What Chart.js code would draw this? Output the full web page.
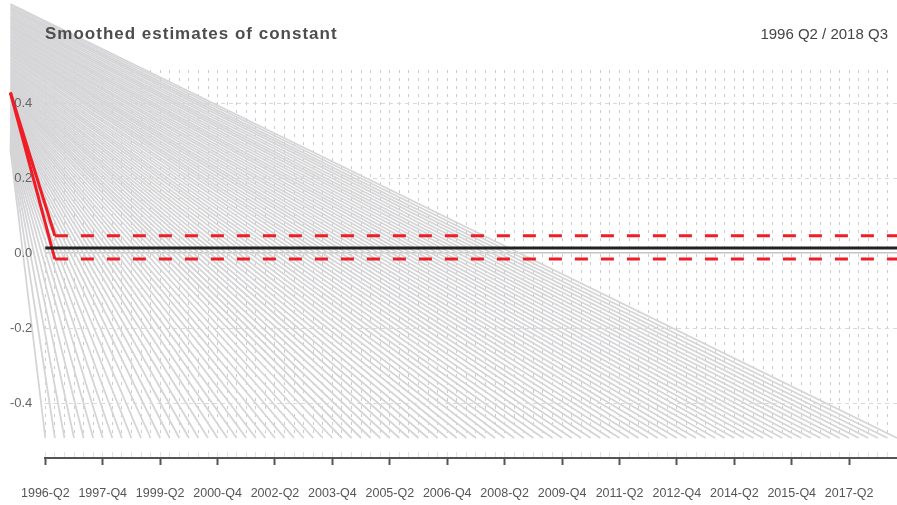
<!DOCTYPE html>
<html>
<head>
<meta charset="utf-8">
<script src="https://cdn.jsdelivr.net/npm/chart.js@4/dist/chart.umd.min.js"></script>
<style>
html, body { margin: 0; padding: 0; background: #fff; }
#wrap { position: relative; width: 897px; height: 505px; }
#title { position: absolute; left: 45px; top: 24px; font: bold 17px "Liberation Sans", Arial, sans-serif; color: #4d4d4d; letter-spacing: 1px; }
#range { position: absolute; right: 9px; top: 25px; font: 15px "Liberation Sans", Arial, sans-serif; color: #444; }
canvas { position: absolute; left: 0; top: 0; }
</style>
</head>
<body>
<div id="wrap">
  <canvas id="chart" width="897" height="505"></canvas>
  <div id="title">Smoothed estimates of constant</div>
  <div id="range">1996 Q2 / 2018 Q3</div>
</div>
<script>
// quarters 1996-Q2 .. 2018-Q3
var quarters = [];
for (var i = 0; i < 90; i++) {
    var k = 1 + i; // 1996-Q2 is quarter index 1 of 1996
    quarters.push((1996 + Math.floor(k / 4)) + '-Q' + (k % 4 + 1));
}
const tickLabels = ['1996-Q2', '1997-Q4', '1999-Q2', '2000-Q4', '2002-Q2', '2003-Q4', '2005-Q2',
    '2006-Q4', '2008-Q2', '2009-Q4', '2011-Q2', '2012-Q4', '2014-Q2', '2015-Q4', '2017-Q2'];
const tickPositions = [0, 6, 12, 18, 24, 30, 36, 42, 48, 54, 60, 66, 72, 78, 84];
const yTicks = [-0.4, -0.2, 0, 0.2, 0.4];

const startX = -3.65;          // left edge where the fan and bands begin (outside the plot)
const fanFloor = -0.493;       // every grey line ends on the floor at its quarter
// where each quarter's grey line starts on the left edge
const fanStarts = [
    0.276, 0.280, 0.285, 0.289, 0.293, 0.298, 0.302, 0.307, 0.311, 0.315,
    0.320, 0.324, 0.328, 0.333, 0.337, 0.341, 0.346, 0.350, 0.354, 0.359,
    0.363, 0.368, 0.372, 0.376, 0.381, 0.385, 0.389, 0.394, 0.398, 0.402,
    0.407, 0.411, 0.416, 0.420, 0.424, 0.429, 0.433, 0.437, 0.442, 0.446,
    0.450, 0.455, 0.459, 0.463, 0.468, 0.472, 0.477, 0.481, 0.485, 0.490,
    0.494, 0.498, 0.503, 0.507, 0.511, 0.516, 0.520, 0.525, 0.529, 0.533,
    0.538, 0.542, 0.546, 0.551, 0.555, 0.559, 0.564, 0.568, 0.572, 0.577,
    0.581, 0.586, 0.590, 0.594, 0.599, 0.603, 0.607, 0.612, 0.616, 0.620,
    0.625, 0.629, 0.633, 0.638, 0.642, 0.647, 0.651, 0.655, 0.660, 0.664
];
const estimate = 0.0133;       // smoothed estimate (flat)
const upperStart = 0.428, upper = 0.046;
const lowerStart = 0.428, lower = -0.016;

var datasets = [];

// smoothed estimate and bands
datasets.push({
    data: quarters.map(function (q, i) { return { x: i, y: estimate }; }),
    borderColor: '#222222', borderWidth: 3
});
[[upperStart, upper], [lowerStart, lower]].forEach(function (b) {
    var pts = [{ x: startX, y: b[0] }];
    for (var i = 1; i < quarters.length; i++) pts.push({ x: i, y: b[1] });
    datasets.push({
        data: pts,
        borderColor: '#ee1d26', borderWidth: 3,
        segment: { borderDash: function (ctx) { return ctx.p0DataIndex === 0 ? [] : [13, 13]; } }
    });
});

// grey fan, one line per quarter
quarters.forEach(function (q, i) {
    datasets.push({
        data: [{ x: startX, y: fanStarts[i] }, { x: i, y: fanFloor }],
        borderColor: '#d5d5d7', borderWidth: 1.8
    });
});

datasets.forEach(function (d) {
    d.pointRadius = 0;
    d.fill = false;
    d.clip = false;
    d.tension = 0;
});

new Chart(document.getElementById('chart'), {
    type: 'line',
    data: { datasets: datasets },
    options: {
        responsive: false,
        animation: false,
        events: [],
        layout: { padding: { top: 70, right: 0, bottom: 0, left: 0 } },
        plugins: { legend: { display: false }, tooltip: { enabled: false } },
        scales: {
            x: {
                type: 'linear', min: 0, max: 89, weight: 0,
                ticks: { display: false },
                grid: { color: '#cccccc', lineWidth: 1, drawTicks: true, tickLength: 20,
                        tickColor: '#e2e2e2', tickBorderDash: [0, 14, 5, 30] },
                border: { display: false, dash: [3, 5] },
                afterBuildTicks: function (s) { s.ticks = quarters.map(function (q, i) { return { value: i }; }); },
                afterFit: function (s) { s.height = 20; }
            },
            x2: {
                type: 'linear', axis: 'x', position: 'bottom', min: 0, max: 89, weight: 1,
                grid: { drawOnChartArea: false, tickLength: 7, tickWidth: 2, tickColor: '#555' },
                border: { display: true, color: '#555', width: 2 },
                ticks: {
                    padding: 21, maxRotation: 0, autoSkip: false, color: '#555',
                    font: { family: 'Liberation Sans', size: 12.5 },
                    callback: function (v) { return tickLabels[tickPositions.indexOf(v)]; }
                },
                afterBuildTicks: function (s) { s.ticks = tickPositions.map(function (v) { return { value: v }; }); },
                afterFit: function (s) { s.height = 47; }
            },
            y: {
                type: 'linear', min: fanFloor, max: 0.488,
                ticks: {
                    z: 1, // labels sit on top of the grey lines
                    padding: 13, color: '#666',
                    font: { family: 'Liberation Sans', size: 13 },
                    callback: function (v) { return v.toFixed(1); }
                },
                afterBuildTicks: function (s) { s.ticks = yTicks.map(function (v) { return { value: v }; }); },
                afterFit: function (s) { s.width = 45; },
                grid: {
                    drawTicks: false,
                    color: function (c) { return c.tick && c.tick.value === 0 ? '#c4c4c4' : '#d9d9d9'; },
                    lineWidth: function (c) { return c.tick && c.tick.value === 0 ? 1.5 : 1; }
                },
                border: {
                    display: false,
                    dash: function (c) { return c.tick && c.tick.value === 0 ? [] : [4, 4]; }
                }
            }
        }
    }
});
</script>
</body>
</html>
